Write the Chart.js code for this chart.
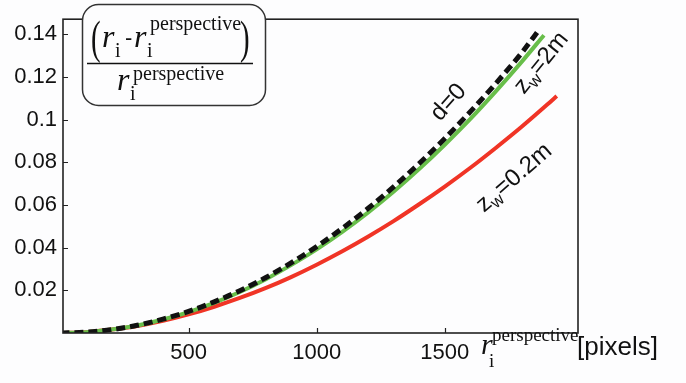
<!DOCTYPE html>
<html>
<head>
<meta charset="utf-8">
<script src="https://cdn.jsdelivr.net/npm/chart.js@4.4.0/dist/chart.umd.min.js"></script>
<style>
  html, body { margin: 0; padding: 0; background: #fff; }
  #wrap { width: 686px; height: 383px; position: relative; }
</style>
</head>
<body>
<div id="wrap"><canvas id="distChart" width="686" height="383"></canvas></div>
<script>
// values
var xTicks = [500, 1000, 1500];
var yTicks = [0.02, 0.04, 0.06, 0.08, 0.1, 0.12, 0.14];

var xFlat = [0, 100, 200, 300, 400, 500, 600, 700, 800, 900, 1000, 1100, 1200, 1300, 1400, 1500, 1600, 1700, 1800, 1871];
var yFlat = [0, 0.0004, 0.0016, 0.0036, 0.0065, 0.0101, 0.0146, 0.0198, 0.0259, 0.0328, 0.0405, 0.049, 0.0583, 0.0684, 0.0794, 0.0911, 0.1037, 0.117, 0.1312, 0.1425];

var xFar = [0, 100, 200, 300, 400, 500, 600, 700, 800, 900, 1000, 1100, 1200, 1300, 1400, 1500, 1600, 1700, 1800, 1887];
var yFar = [0, 0.0004, 0.0016, 0.0035, 0.0063, 0.0098, 0.0141, 0.0192, 0.0251, 0.0318, 0.0392, 0.0474, 0.0564, 0.0662, 0.0768, 0.0882, 0.1003, 0.1133, 0.127, 0.1395];

var xNear = [0, 100, 200, 300, 400, 500, 600, 700, 800, 900, 1000, 1100, 1200, 1300, 1400, 1500, 1600, 1700, 1800, 1900, 1937];
var yNear = [0, 0.0004, 0.0016, 0.0033, 0.0057, 0.0087, 0.0123, 0.0164, 0.021, 0.0262, 0.032, 0.0383, 0.0451, 0.0524, 0.0603, 0.0686, 0.0774, 0.0868, 0.0966, 0.107, 0.111];

function pts(xs, ys) {
    return xs.map(function(x, i) { return {x: x, y: ys[i]}; });
}

var SERIF = '"Liberation Serif", "Times New Roman", serif';
var SANS = '"Liberation Sans", Arial, sans-serif';

// draws a run of text pieces along a rotated baseline
function drawRun(ctx, x, y, deg, parts) {
    ctx.save();
    ctx.translate(x, y);
    ctx.rotate(deg * Math.PI / 180);
    ctx.textBaseline = 'alphabetic';
    ctx.textAlign = 'left';
    var cx = 0;
    parts.forEach(function(p) {
        ctx.font = p.font;
        ctx.fillStyle = '#111';
        ctx.fillText(p.t, cx, p.dy || 0);
        cx += ctx.measureText(p.t).width;
    });
    ctx.restore();
}

// tall thin parenthesis
function paren(ctx, ch, x, y) {
    ctx.save();
    ctx.translate(x, y);
    ctx.scale(0.9, 1.45);
    ctx.font = '32px ' + SERIF;
    ctx.fillText(ch, 0, 0);
    ctx.restore();
}

var decor = {
    id: 'decor',
    beforeDraw: function(chart) {
        var ctx = chart.ctx;
        ctx.save();
        ctx.fillStyle = '#fdfdfe';
        ctx.fillRect(0, 0, chart.width, chart.height);
        ctx.restore();
    },
    afterDatasetsDraw: function(chart) {
        var ctx = chart.ctx, a = chart.chartArea;
        var xs = chart.scales.x, ys = chart.scales.y;
        ctx.save();
        // frame
        ctx.strokeStyle = '#222';
        ctx.lineWidth = 1.6;
        ctx.strokeRect(a.left, a.top, a.right - a.left, a.bottom - a.top);
        // inward ticks
        ctx.lineWidth = 1.2;
        ctx.beginPath();
        xTicks.forEach(function(v) {
            var px = Math.round(xs.getPixelForValue(v)) + 0.5;
            ctx.moveTo(px, a.bottom); ctx.lineTo(px, a.bottom - 5);
        });
        yTicks.forEach(function(v) {
            var py = Math.round(ys.getPixelForValue(v)) + 0.5;
            ctx.moveTo(a.left, py); ctx.lineTo(a.left + 5, py);
        });
        ctx.stroke();

        // curve labels
        var lab = '24px ' + SANS, sub = '17px ' + SANS;
        drawRun(ctx, 440, 122, -48, [{t: 'd=0', font: lab}]);
        drawRun(ctx, 524, 95, -51, [{t: 'z', font: lab}, {t: 'w', font: sub, dy: 5}, {t: '=2m', font: lab}]);
        drawRun(ctx, 484, 213, -41, [{t: 'z', font: lab}, {t: 'w', font: sub, dy: 5}, {t: '=0.2m', font: lab}]);

        // formula box
        ctx.beginPath();
        ctx.roundRect(82.5, 4.5, 183, 101, 16);
        ctx.fillStyle = '#fdfdfe';
        ctx.fill();
        ctx.strokeStyle = '#333';
        ctx.lineWidth = 1.5;
        ctx.stroke();
        ctx.fillStyle = '#111';
        ctx.textBaseline = 'alphabetic';
        ctx.textAlign = 'left';
        paren(ctx, '(', 91, 53);
        paren(ctx, ')', 240, 53);
        ctx.font = 'italic 32px ' + SERIF;
        ctx.fillText('r', 102, 47);
        ctx.fillText('r', 134, 47);
        ctx.fillText('r', 117, 90);
        ctx.font = '20px ' + SERIF;
        ctx.fillText('i', 115, 57);
        ctx.fillText('i', 147, 57);
        ctx.fillText('i', 130, 100);
        ctx.fillText('perspective', 150, 30);
        ctx.fillText('perspective', 133, 80);
        ctx.font = '22px ' + SANS;
        ctx.fillText('-', 125, 45);
        ctx.beginPath();
        ctx.moveTo(87, 63.5); ctx.lineTo(253, 63.5);
        ctx.strokeStyle = '#111';
        ctx.lineWidth = 1.5;
        ctx.stroke();

        // x axis title
        ctx.font = 'italic 30px ' + SERIF;
        ctx.fillText('r', 481, 354);
        ctx.font = '19px ' + SERIF;
        ctx.fillText('i', 489, 367);
        ctx.fillText('perspective', 492, 341);
        ctx.font = '26px ' + SANS;
        ctx.fillText('[pixels]', 577, 355);
        ctx.restore();
    }
};

var chart = new Chart(document.getElementById('distChart'), {
    type: 'line',
    data: {
        datasets: [{
            label: 'zw=0.2m',
            data: pts(xNear, yNear),
            borderColor: 'rgb(240,52,38)',
            borderWidth: 4,
            pointRadius: 0,
            cubicInterpolationMode: 'monotone',
            order: 3
        }, {
            label: 'zw=2m',
            data: pts(xFar, yFar),
            borderColor: 'rgb(104,190,74)',
            borderWidth: 4,
            pointRadius: 0,
            cubicInterpolationMode: 'monotone',
            order: 2
        }, {
            label: 'd=0',
            data: pts(xFlat, yFlat),
            borderColor: '#111',
            borderWidth: 5,
            borderDash: [9, 5],
            pointRadius: 0,
            cubicInterpolationMode: 'monotone',
            order: 1
        }]
    },
    options: {
        responsive: false,
        animation: false,
        devicePixelRatio: 1,
        layout: { padding: { top: 11, right: 108, left: 0, bottom: 0 } },
        plugins: { legend: { display: false }, tooltip: { enabled: false } },
        scales: {
            x: {
                type: 'linear',
                min: 10, max: 2020,
                grid: { display: false, drawTicks: false },
                border: { display: false },
                afterBuildTicks: function(s) { s.ticks = xTicks.map(function(v) { return {value: v}; }); },
                afterFit: function(s) { s.height = 50; },
                ticks: {
                    padding: 7, color: '#111', font: { family: SANS, size: 22 }, maxRotation: 0,
                    callback: function(v) { return String(v); }
                }
            },
            y: {
                min: 0, max: 0.147,
                grid: { display: false, drawTicks: false },
                border: { display: false },
                afterBuildTicks: function(s) { s.ticks = yTicks.map(function(v) { return {value: v}; }); },
                afterFit: function(s) { s.width = 63; },
                ticks: {
                    padding: 6, color: '#111', font: { family: SANS, size: 22 },
                    callback: function(v) { return String(+v.toFixed(2)); }
                }
            }
        }
    },
    plugins: [decor]
});
</script>
</body>
</html>
